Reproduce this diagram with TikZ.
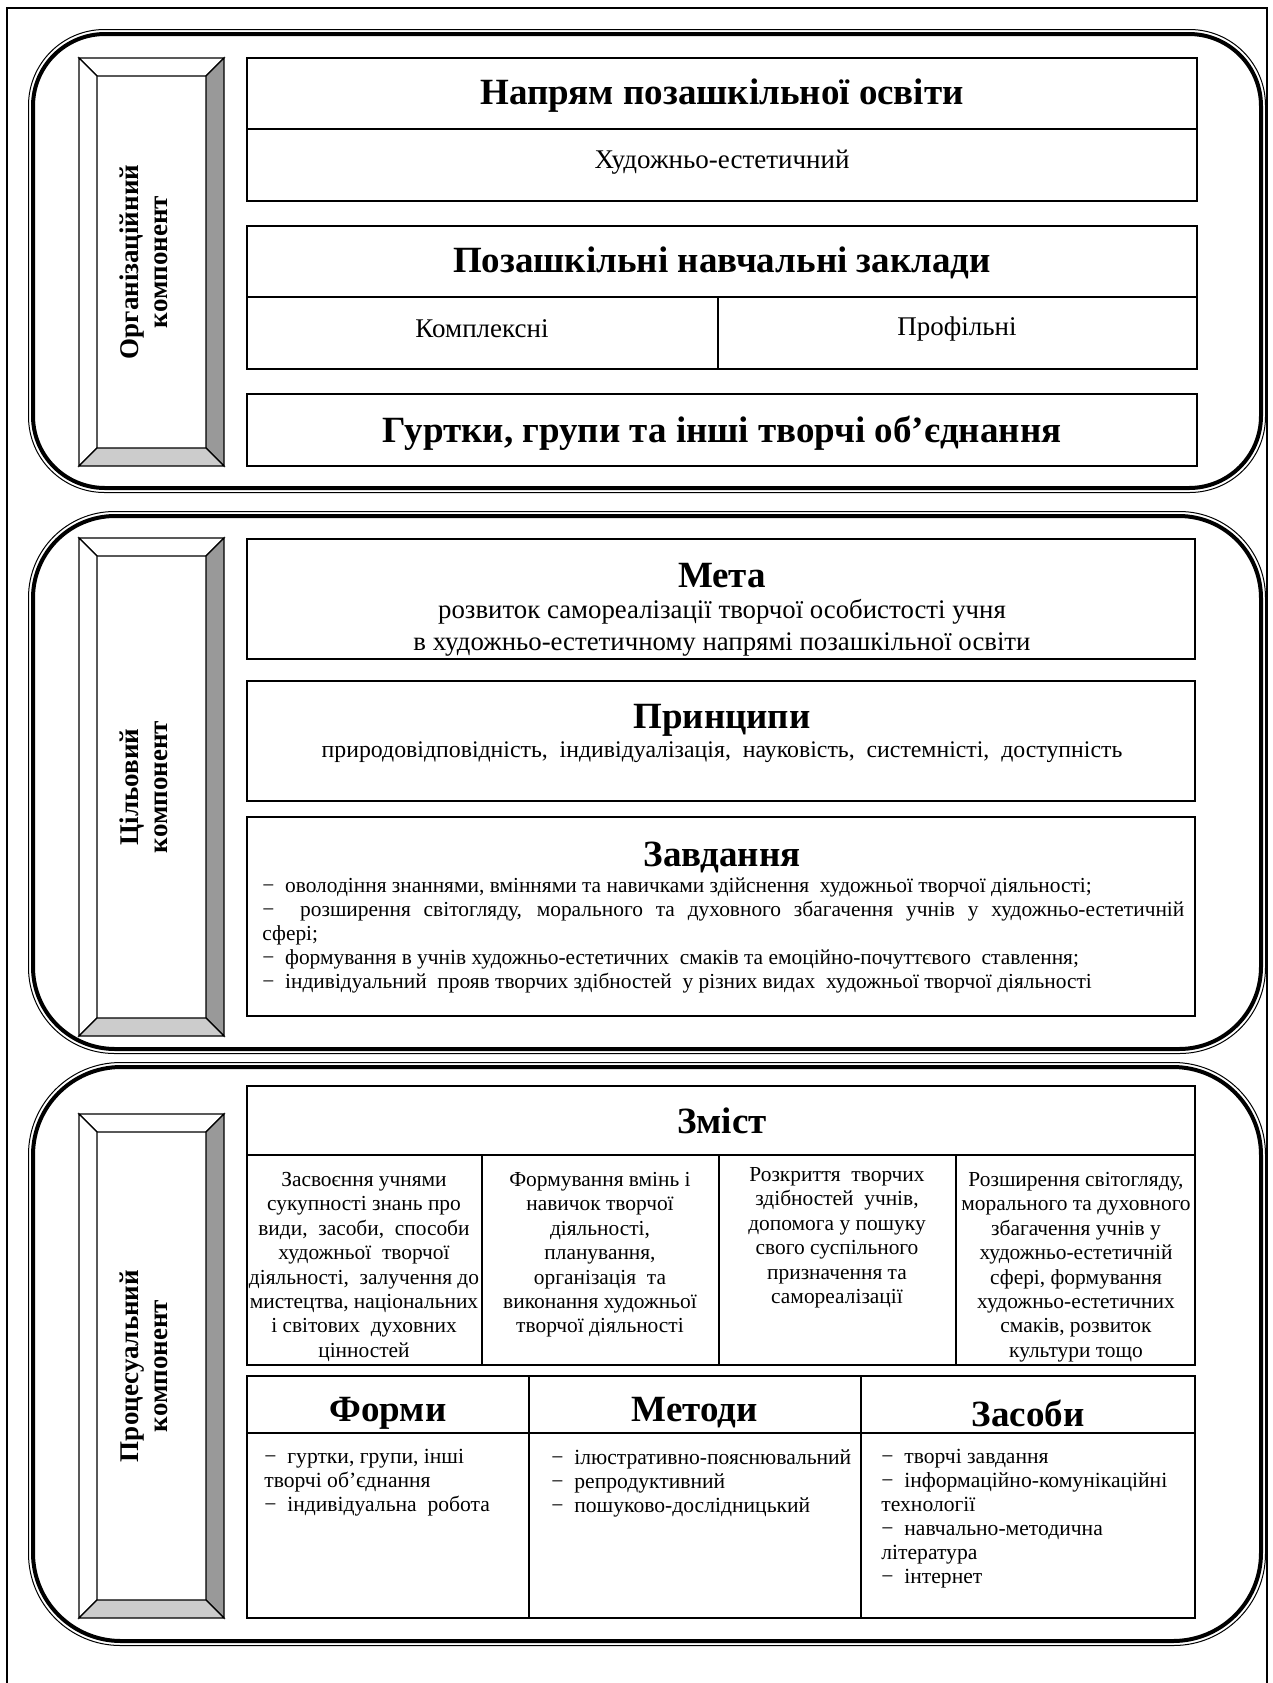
\documentclass[tikz,border=0pt]{standalone}
\usepackage{fontspec}
\setmainfont{Liberation Serif}
\definecolor{bevelDark}{RGB}{153,153,153}
\definecolor{bevelLight}{RGB}{204,204,204}
\tikzset{
  cellbox/.style={draw, line width=0.6pt},
  faceplain/.style={draw, line width=0.6pt, fill=white},
  facedark/.style={draw, line width=0.6pt, fill=bevelDark},
  facelight/.style={draw, line width=0.6pt, fill=bevelLight},
  framethick/.style={line width=2pt},
  framethin/.style={line width=0.5pt},
  heading/.style={inner sep=0pt, font=\fontsize{18.5}{21}\selectfont\bfseries},
  sidelabel/.style={inner sep=0pt, rotate=90, align=center, font=\fontsize{13.5}{14.5}\selectfont\bfseries},
  plaintext/.style={inner sep=0pt, align=center, font=\fontsize{13.5}{16}\selectfont},
  celltext/.style={inner sep=0pt, anchor=north, align=center, font=\fontsize{10.7}{12.2}\selectfont},
  listtext/.style={inner sep=0pt, anchor=north west, align=left, font=\fontsize{10.8}{12}\selectfont},
}
\begin{document}
\begin{tikzpicture}[x=0.5pt,y=0.5pt,yscale=-1,xscale=1]
\useasboundingbox (0,0) rectangle (1273,1683);

%Straight Lines [page frame]
\draw[line width=0.6pt] (7,1683) -- (7,8) -- (1267,8) -- (1267,1683);

%Shape: Rounded Rect [organization frame]
\draw[framethin, rounded corners=38pt] (28.5,29.5) rectangle (1265.5,492.5);
\draw[framethick, rounded corners=36pt] (33,34) rectangle (1261,488);
%Shape: Rounded Rect [goal frame]
\draw[framethin, rounded corners=43pt] (28.5,511.5) rectangle (1265.5,1053.5);
\draw[framethick, rounded corners=41pt] (33,516) rectangle (1261,1049);
%Shape: Rounded Rect [process frame]
\draw[framethin, rounded corners=46pt] (28.5,1062.5) rectangle (1265.5,1645.5);
\draw[framethick, rounded corners=44pt] (33,1067) rectangle (1261,1641);

%Shape: Bevel [organization]
\draw[faceplain] (79,58) -- (224,58) -- (206,76) -- (97,76) -- cycle;
\draw[faceplain] (79,58) -- (97,76) -- (97,448) -- (79,466) -- cycle;
\draw[facedark] (224,58) -- (224,466) -- (206,448) -- (206,76) -- cycle;
\draw[facelight] (79,466) -- (224,466) -- (206,448) -- (97,448) -- cycle;
%Shape: Bevel [goal]
\draw[faceplain] (79,538) -- (224,538) -- (206,556) -- (97,556) -- cycle;
\draw[faceplain] (79,538) -- (97,556) -- (97,1018) -- (79,1036) -- cycle;
\draw[facedark] (224,538) -- (224,1036) -- (206,1018) -- (206,556) -- cycle;
\draw[facelight] (79,1036) -- (224,1036) -- (206,1018) -- (97,1018) -- cycle;
%Shape: Bevel [process]
\draw[faceplain] (79,1114) -- (224,1114) -- (206,1132) -- (97,1132) -- cycle;
\draw[faceplain] (79,1114) -- (97,1132) -- (97,1600) -- (79,1618) -- cycle;
\draw[facedark] (224,1114) -- (224,1618) -- (206,1600) -- (206,1132) -- cycle;
\draw[facelight] (79,1618) -- (224,1618) -- (206,1600) -- (97,1600) -- cycle;

%Shape: Rectangle [direction]
\draw[cellbox] (247,58) rectangle (1197,201);
\draw[cellbox] (247,129) -- (1197,129);
%Shape: Rectangle [institutions]
\draw[cellbox] (247,226) rectangle (1197,369);
\draw[cellbox] (247,297) -- (1197,297);
\draw[cellbox] (718,297) -- (718,369);
%Shape: Rectangle [groups]
\draw[cellbox] (247,394) rectangle (1197,466);

%Shape: Rectangle [goal, principles, tasks]
\draw[cellbox] (247,539) rectangle (1195,659);
\draw[cellbox] (247,681) rectangle (1195,801);
\draw[cellbox] (247,817) rectangle (1195,1016);

%Shape: Rectangle [content]
\draw[cellbox] (247,1086) rectangle (1195,1365);
\draw[cellbox] (247,1155) -- (1195,1155);
\draw[cellbox] (482,1155) -- (482,1365);
\draw[cellbox] (719,1155) -- (719,1365);
\draw[cellbox] (956,1155) -- (956,1365);
%Shape: Rectangle [forms, methods, means]
\draw[cellbox] (247,1376) rectangle (1195,1618);
\draw[cellbox] (247,1433) -- (1195,1433);
\draw[cellbox] (529,1376) -- (529,1618);
\draw[cellbox] (861,1376) -- (861,1618);

% Text Node
\node[sidelabel] (orglabel) at (144,262) {Організаційний\\компонент};
% Text Node
\node[sidelabel] (goallabel) at (144,787) {Цільовий\\компонент};
% Text Node
\node[sidelabel] (proclabel) at (144,1366) {Процесуальний\\компонент};

% Text Node
\node[heading] (direction) at (722,96) {Напрям позашкільної освіти};
% Text Node
\node[plaintext] (artistic) at (722,162) {Художньо-естетичний};
% Text Node
\node[heading] (institutions) at (722,263) {Позашкільні навчальні заклади};
% Text Node
\node[plaintext] (complex) at (482,329) {Комплексні};
% Text Node
\node[plaintext] (profile) at (957,329) {Профільні};
% Text Node
\node[heading] (groups) at (722,433) {Гуртки, групи та інші творчі об’єднання};

% Text Node
\node[heading] (goal) at (722,576) {Мета};
% Text Node
\node[plaintext, font=\fontsize{13.4}{16}\selectfont] (goaltext) at (722,628) {розвиток самореалізації творчої особистості учня\\в художньо-естетичному напрямі позашкільної освіти};
% Text Node
\node[heading] (principles) at (722,720) {Принципи};
% Text Node
\node[plaintext, font=\fontsize{11.9}{14}\selectfont] (principlestext) at (722,752) {природовідповідність, \ індивідуалізація, \ науковість, \ системністі, \ доступність};
% Text Node
\node[heading] (tasks) at (722,857) {Завдання};
% Text Node
\node[inner sep=0pt, anchor=north west, text width=461pt, align=justify, font=\fontsize{10.7}{12}\selectfont] (taskstext) at (262,877) {%
\noindent −~ оволодіння знаннями, вміннями та навичками здійснення \ художньої творчої діяльності;\par
\noindent −~ розширення світогляду, морального та духовного збагачення учнів у художньо-естетичній\linebreak сфері;\par
\noindent −~ формування в учнів художньо-естетичних \ смаків та емоційно-почуттєвого \ ставлення;\par
\noindent −~ індивідуальний \ прояв творчих здібностей \ у різних видах \ художньої творчої діяльності};

% Text Node
\node[heading] (content) at (722,1121) {Зміст};
% Text Node
\node[celltext] (contentA) at (364,1172) {Засвоєння учнями\\сукупності знань про\\види, \ засоби, \ способи\\художньої \ творчої\\діяльності, \ залучення до\\мистецтва, національних\\і світових \ духовних\\цінностей};
% Text Node
\node[celltext] (contentB) at (600,1172) {Формування вмінь і\\навичок творчої\\діяльності,\\планування,\\організація \ та\\виконання художньої\\творчої діяльності};
% Text Node
\node[celltext] (contentC) at (837,1167) {Розкриття \ творчих\\здібностей \ учнів,\\допомога у пошуку\\свого суспільного\\призначення та\\самореалізації};
% Text Node
\node[celltext] (contentD) at (1076,1172) {Розширення світогляду,\\морального та духовного\\збагачення учнів у\\художньо-естетичній\\сфері, формування\\художньо-естетичних\\смаків, розвиток\\культури тощо};

% Text Node
\node[heading] (forms) at (388,1413) {Форми};
% Text Node
\node[heading] (methods) at (695,1413) {Методи};
% Text Node
\node[heading] (means) at (1028,1413) {Засоби};
% Text Node
\node[listtext] (formslist) at (264,1449) {−~ гуртки, групи, інші\\творчі об’єднання\\−~ індивідуальна \ робота};
% Text Node
\node[listtext] (methodslist) at (551,1449) {−~ ілюстративно-пояснювальний\\−~ репродуктивний\\−~ пошуково-дослідницький};
% Text Node
\node[listtext] (meanslist) at (881,1449) {−~ творчі завдання\\−~ інформаційно-комунікаційні\\технології\\−~ навчально-методична\\література\\−~ інтернет};

\end{tikzpicture}
\end{document}
